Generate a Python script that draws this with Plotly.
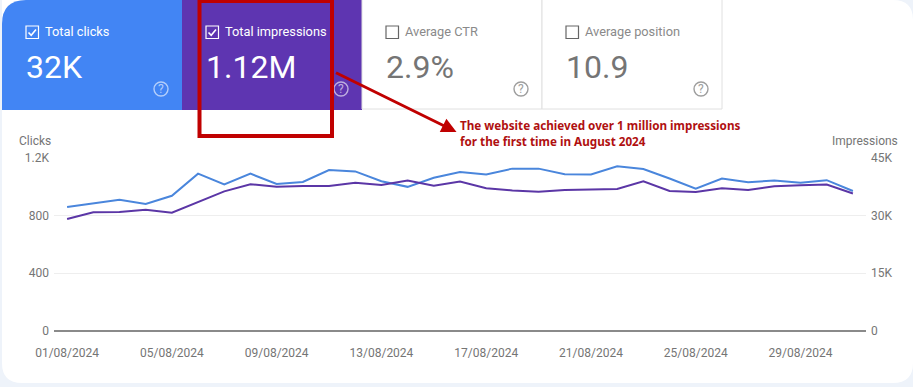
import plotly.graph_objects as go

dates = [f"2024-08-{d:02d}" for d in range(1, 32)]
clicks = [858, 881, 907, 879, 935, 1088, 1013, 1088, 1017, 1031, 1113, 1104, 1036, 997, 1060, 1099,
          1083, 1123, 1123, 1085, 1083, 1139, 1120, 1055, 985, 1055, 1029, 1041, 1025, 1043, 968]
impressions = [29030, 30790, 30870, 31470, 30690, 33420, 36210, 38050, 37440, 37630, 37630, 38420,
               37890, 39020, 37700, 38750, 37000, 36470, 36130, 36570, 36730, 36840, 38840, 36310,
               36050, 37000, 36570, 37520, 37790, 37970, 35680]
x_tick_vals = ["2024-08-01", "2024-08-05", "2024-08-09", "2024-08-13", "2024-08-17", "2024-08-21", "2024-08-25", "2024-08-29"]
x_tick_text = ["01/08/2024", "05/08/2024", "09/08/2024", "13/08/2024", "17/08/2024", "21/08/2024", "25/08/2024", "29/08/2024"]
left_vals = [0, 400, 800, 1200]
left_text = ["0", "400", "800", "1.2K"]
right_vals = [0, 15000, 30000, 45000]
right_text = ["0", "15K", "30K", "45K"]

W, H = 913, 387
BLUE, PURPLE = "#4285f4", "#5e35b1"
RED = "#c00000"
GRAY = "#757575"
FONT = "Roboto, sans-serif"


def px(x):
    return x / W


def py(y):
    return 1 - y / H


def path(points, close=True):
    s = "M " + " L ".join(f"{px(x):.5f} {py(y):.5f}" for x, y in points)
    return s + (" Z" if close else "")


shapes, annos = [], []


def rect(x0, y0, x1, y1, fill="rgba(0,0,0,0)", line=None, lw=1):
    shapes.append(dict(type="rect", xref="paper", yref="paper", x0=px(x0), x1=px(x1), y0=py(y0), y1=py(y1),
                       fillcolor=fill, line=dict(color=line or "rgba(0,0,0,0)", width=lw if line else 0), layer="below"))


def text(x, y, s, size, color, anchor="left", family=FONT, weight=None):
    annos.append(dict(xref="paper", yref="paper", x=px(x), y=py(y), text=s, showarrow=False, xanchor=anchor,
                      yanchor="middle", align=anchor, borderpad=0,
                      font=dict(family=family, size=size, color=color, weight=weight)))


# white page panel with rounded corners
r = 20
L, R, B = 2, 913, 383
panel = (f"M {px(L)} {py(0)} L {px(R - r)} {py(0)} Q {px(R)} {py(0)} {px(R)} {py(r)} "
         f"L {px(R)} {py(B - r)} Q {px(R)} {py(B)} {px(R - r)} {py(B)} L {px(L + r)} {py(B)} "
         f"Q {px(L)} {py(B)} {px(L)} {py(B - r)} Z")
shapes.append(dict(type="path", xref="paper", yref="paper", path=panel, fillcolor="white", line=dict(width=0), layer="below"))

# metric cards
card = (f"M {px(2)} {py(110)} L {px(2)} {py(24)} Q {px(2)} {py(0)} {px(26)} {py(0)} L {px(182)} {py(0)} "
        f"L {px(182)} {py(110)} Z")
shapes.append(dict(type="path", xref="paper", yref="paper", path=card, fillcolor=BLUE, line=dict(width=0), layer="below"))
rect(182, 0, 362, 110, fill=PURPLE)
rect(362, -2, 542, 109, fill="white", line="#e0e0e0")
rect(542, -2, 722, 109, fill="white", line="#e0e0e0")


def checkbox(x, y, checked, color):
    s = 12.5
    shapes.append(dict(type="rect", xref="paper", yref="paper", x0=px(x), x1=px(x + s), y0=py(y), y1=py(y + s),
                       fillcolor="rgba(0,0,0,0)", line=dict(color=color, width=1.2)))
    if checked:
        shapes.append(dict(type="path", xref="paper", yref="paper",
                           path=path([(x + 2.5, y + 6.5), (x + 5.2, y + 9.2), (x + 10, y + 3.5)], close=False),
                           line=dict(color=color, width=1.6)))


def help_icon(cx, cy, color):
    rad = 7
    shapes.append(dict(type="circle", xref="paper", yref="paper", x0=px(cx - rad), x1=px(cx + rad), y0=py(cy - rad),
                       y1=py(cy + rad), line=dict(color=color, width=1.4), fillcolor="rgba(0,0,0,0)"))
    text(cx, cy, "?", 12, color, "center")


cards = [
    (26, "Total clicks", "32K", True, "white", "rgba(255,255,255,0.6)", 161),
    (206, "Total impressions", "1.12M", True, "white", "rgba(255,255,255,0.6)", 341),
    (386, "Average CTR", "2.9%", False, GRAY, "#9e9e9e", 521),
    (566, "Average position", "10.9", False, GRAY, "#9e9e9e", 701),
]
for x, title, val, chk, col, hcol, hx in cards:
    checkbox(x, 26, chk, col if chk else "#666666")
    text(x + 17.5, 32, title, 12.8, col if chk else "#8a8a8a")
    text(x - 1.5, 67, val, 32, col)
    help_icon(hx, 89, hcol)

# callout
rect(199.5, 1, 332, 136, line=RED, lw=4)
shapes[-1]["layer"] = "above"
annos.append(dict(xref="paper", yref="paper", axref="pixel", ayref="pixel", x=px(456.5), y=py(132),
                  ax=-122, ay=-60, text="", showarrow=True, arrowhead=2, arrowsize=1, arrowwidth=3, arrowcolor=RED))
text(458.5, 125, "The website achieved over 1 million impressions", 11.7, "#b01010", family="Noto Sans", weight="bold")
text(458.5, 141, "for the first time in August 2024", 11.7, "#b01010", family="Noto Sans", weight="bold")

# axis titles
text(17.5, 141, "Clicks", 12, GRAY)
text(899, 141, "Impressions", 12, GRAY, "right")

fig = go.Figure()
fig.add_trace(go.Scatter(x=dates, y=clicks, name="Clicks", mode="lines", line=dict(color="#4a86dc", width=2),
                         yaxis="y", showlegend=False))
fig.add_trace(go.Scatter(x=dates, y=impressions, name="Impressions", mode="lines", line=dict(color="#5b36a6", width=2),
                         yaxis="y2", showlegend=False))
fig.update_layout(
    width=W, height=H, margin=dict(l=0, r=0, t=0, b=0), autosize=False,
    paper_bgcolor="#eef3fa", plot_bgcolor="rgba(0,0,0,0)", font=dict(family=FONT, size=12, color=GRAY),
    shapes=shapes, annotations=annos,
    xaxis=dict(domain=[px(54), px(866)], type="date", range=["2024-07-31 12:00", "2024-08-31 12:00"],
               tickvals=x_tick_vals, ticktext=x_tick_text, showgrid=False, zeroline=False, showline=False,
               ticks="", automargin=False, tickangle=0, ticklabelstandoff=13),
    yaxis=dict(domain=[py(331), py(157.5)], range=[0, 1200], tickvals=left_vals, ticktext=left_text, gridcolor="#eeeeee",
               zeroline=True, zerolinecolor="#8a8a8a", zerolinewidth=1.5, automargin=False, ticks="", ticklabelstandoff=4),
    yaxis2=dict(domain=[py(331), py(157.5)], range=[0, 45000], tickvals=right_vals, ticktext=right_text, overlaying="y",
                side="right", showgrid=False, zeroline=False, automargin=False, ticks="", ticklabelstandoff=4),
)
fig.write_html("out.html", config={"displayModeBar": False},
               post_script="document.body.style.margin='0';document.body.style.overflow='hidden';")
